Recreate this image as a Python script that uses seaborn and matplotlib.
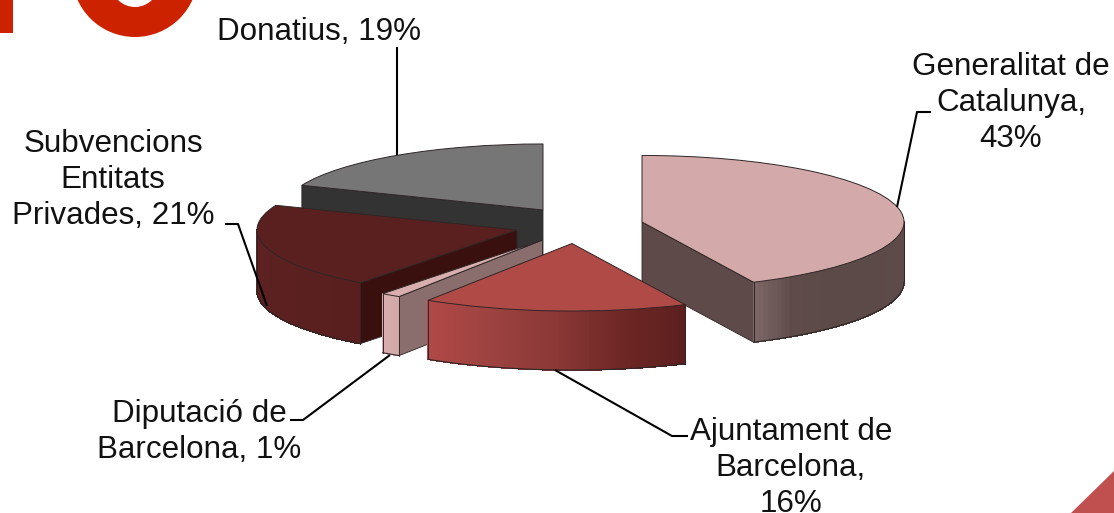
import numpy as np
import matplotlib
matplotlib.use("Agg")
import matplotlib.pyplot as plt
from matplotlib.patches import Ellipse, Polygon, Rectangle
import seaborn as sns

# ---- data ----
categories = ["Generalitat de\nCatalunya,", "Ajuntament de\nBarcelona,", "Diputació de\nBarcelona,",
              "Subvencions\nEntitats\nPrivades,", "Donatius,"]
values = [43.0, 16.1, 1.2, 20.8, 18.9]
label_seps = ["\n", "\n", " ", " ", " "]

# ---- style ----
top_colors = ["#d4a9a9", "#af4a47", "#d8aeae", "#5a201f", "#767676"]
radial_colors = ["#5e4b49", None, "#8a6e6d", "#3a100f", "#333333"]
radial_side = ["end", None, "start", "start", "start"]
arc_ramps = [["#7d6767", "#5f4c4a", "#5c4a48", "#5c4a48", "#5e4b49"],
             ["#b04846", "#9c4240", "#8a3836", "#6e2725", "#5d1f1e"],
             ["#d8aeae", "#d0a6a6"],
             ["#5c2120", "#5a201f", "#591f1e"],
             ["#767676"]]
centers = [(642, 222), (572, 243.5), (542.5, 240), (517, 230), (543, 210)]
radii = [262, 266, 265, 260, 260]
heights = [60, 59, 59, 61, 61]
layers = [4, 5, 3, 2, 1]
k = 0.254
edge = "#2e2626"

label_pos = [(1011, 103), (791, 468), (199, 432), (113, 180), (319, 32)]
leaders = [[(931, 112), (917, 112), (897, 207)],
           [(688, 436), (672, 436), (555, 370)],
           [(290, 420), (303, 420), (390, 355)],
           [(225, 224), (238, 224), (267, 306)],
           [(397, 47), (397, 155)]]

sns.set_theme(style="white")
plt.rcParams["font.family"] = ["Liberation Sans", "DejaVu Sans"]

fig = plt.figure(figsize=(11.14, 5.13), dpi=100)
ax = fig.add_axes([0, 0, 1, 1])


def Y(py):
    return (513 - py) / k


wedges, _ = ax.pie(values, startangle=90, counterclock=False, colors=top_colors,
                   wedgeprops=dict(edgecolor=edge, linewidth=0.7))
ax.set_aspect("auto")
ax.set_xlim(0, 1114)
ax.set_ylim(0, 513 / k)
ax.axis("off")

edges = np.cumsum([0] + values) * 3.6
for i, w in enumerate(wedges):
    cx, cy = centers[i]
    R = radii[i]
    w.set_center((cx, Y(cy)))
    w.set_radius(R)
    z = layers[i] * 10
    w.set_zorder(z + 2)
    t0, t1 = edges[i], edges[i + 1]
    h = heights[i] / k

    def top(t):
        r = np.radians(t)
        return np.array([cx + R * np.sin(r), Y(cy) + R * np.cos(r)])

    # straight cut face seen from the front
    if radial_side[i]:
        t = t1 if radial_side[i] == "end" else t0
        p = top(t)
        a = (cx, Y(cy))
        ax.add_patch(Polygon([a, p, (p[0], p[1] - h), (a[0], a[1] - h)], closed=True,
                             facecolor=radial_colors[i], edgecolor=edge, linewidth=0.6, zorder=z))
    # curved outer face, shaded strip by strip
    a0, a1 = max(t0, 90), min(t1, 270)
    if a1 > a0:
        ts = np.linspace(a0, a1, 60)
        pts = np.array([top(t) for t in ts])
        pal = sns.blend_palette(arc_ramps[i], 101)
        xmin, xmax = pts[:, 0].min(), pts[:, 0].max()
        for j in range(len(ts) - 1):
            p, q = pts[j], pts[j + 1]
            f = (0.5 * (p[0] + q[0]) - xmin) / max(xmax - xmin, 1e-6)
            col = pal[int(round(f * 100))]
            ax.add_patch(Polygon([p, q, (q[0], q[1] - h), (p[0], p[1] - h)], closed=True,
                                 facecolor=col, edgecolor=col, linewidth=0.5,
                                 antialiased=False, zorder=z + 1))
        ax.plot(pts[:, 0], pts[:, 1] - h, color=edge, lw=0.8, zorder=z + 1.5)
        for e in (pts[0], pts[-1]):
            ax.plot([e[0], e[0]], [e[1], e[1] - h], color=edge, lw=0.7, zorder=z + 1.5)

# labels and leader lines
for i, (cat, val) in enumerate(zip(categories, values)):
    lx, ly = label_pos[i]
    ax.text(lx, Y(ly), f"{cat}{label_seps[i]}{val:.0f}%", ha="center", va="center", multialignment="center",
            fontsize=22.6, color="#111111", linespacing=1.26, zorder=100)
    xs, ys = zip(*leaders[i])
    ax.plot(xs, [Y(v) for v in ys], color="black", lw=1.5, zorder=90, solid_capstyle="butt")

# decorative page fragments
red = "#cc2200"
ax.add_patch(Rectangle((-5, Y(33)), 18, 40 / k, facecolor=red, edgecolor="none", zorder=0.5))
ax.add_patch(Ellipse((135, Y(-26)), 126, 126 / k, facecolor=red, edgecolor="none", zorder=0.5))
ax.add_patch(Ellipse((135, Y(-17)), 48, 48 / k, facecolor="white", edgecolor="none", zorder=0.6))
ax.add_patch(Polygon([(1071, Y(513)), (1114, Y(471)), (1114, Y(513))], closed=True,
                     facecolor="#c0504f", edgecolor="none", zorder=0.5))

fig.savefig("out.png", dpi=100)
